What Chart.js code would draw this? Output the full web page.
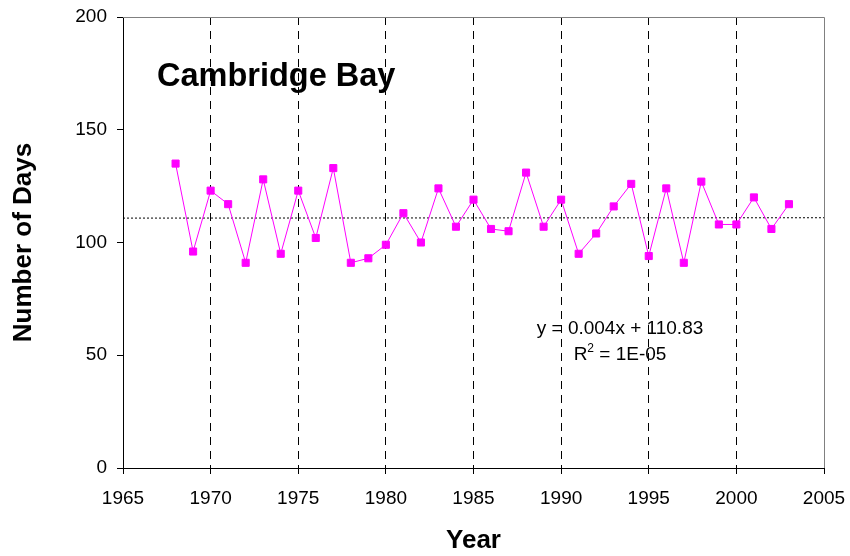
<!DOCTYPE html>
<html>
<head>
<meta charset="utf-8">
<script src="https://cdn.jsdelivr.net/npm/chart.js@4"></script>
<style>
  html, body { margin: 0; padding: 0; background: #fff; }
  #wrap { width: 850px; height: 556px; position: relative; }
</style>
</head>
<body>
<div id="wrap"><canvas id="chart" width="850" height="556"></canvas></div>
<script>
// Cambridge Bay - number of days per year
const years = [1968, 1969, 1970, 1971, 1972, 1973, 1974, 1975, 1976, 1977, 1978, 1979,
    1980, 1981, 1982, 1983, 1984, 1985, 1986, 1987, 1988, 1989, 1990, 1991,
    1992, 1993, 1994, 1995, 1996, 1997, 1998, 1999, 2000, 2001, 2002, 2003];
const days = [135, 96, 123, 117, 91, 128, 95, 123, 102, 133, 91, 93,
    99, 113, 100, 124, 107, 119, 106, 105, 131, 107, 119, 95,
    104, 116, 126, 94, 124, 91, 127, 108, 108, 120, 106, 117];
// linear trend line, drawn across the whole axis
const trendYears = [1965, 2005];
const trendValues = [110.82, 110.98];
const xTicks = [1965, 1970, 1975, 1980, 1985, 1990, 1995, 2000, 2005];
const yTicks = [0, 50, 100, 150, 200];

const FONT = 'Arial, "Liberation Sans", sans-serif';

const labelsPlugin = {
    id: 'labels',
    beforeDatasetsDraw(chart) {
        const { ctx, chartArea: a } = chart;
        ctx.save();
        // grey frame on top and right
        ctx.strokeStyle = '#808080';
        ctx.lineWidth = 1;
        ctx.beginPath();
        ctx.moveTo(a.left, a.top + 0.5);
        ctx.lineTo(a.right + 0.5, a.top + 0.5);
        ctx.lineTo(a.right + 0.5, a.bottom);
        ctx.stroke();
        ctx.restore();
    },
    afterDraw(chart) {
        const { ctx } = chart;
        ctx.save();
        ctx.fillStyle = '#000';
        ctx.textBaseline = 'alphabetic';
        ctx.font = 'bold 32.5px ' + FONT;
        ctx.textAlign = 'left';
        ctx.fillText('Cambridge Bay', 157, 86);

        ctx.font = '19px ' + FONT;
        ctx.textAlign = 'center';
        ctx.fillText('y = 0.004x + 110.83', 620, 334);
        // R² line
        const a = 'R', b = ' = 1E-05';
        const wa = ctx.measureText(a).width;
        ctx.font = '12px ' + FONT;
        const ws = ctx.measureText('2').width;
        ctx.font = '19px ' + FONT;
        const wb = ctx.measureText(b).width;
        let x = 620 - (wa + ws + wb) / 2;
        ctx.textAlign = 'left';
        ctx.fillText(a, x, 360);
        ctx.font = '12px ' + FONT;
        ctx.fillText('2', x + wa, 352);
        ctx.font = '19px ' + FONT;
        ctx.fillText(b, x + wa + ws, 360);
        ctx.restore();
    }
};

new Chart(document.getElementById('chart'), {
    type: 'scatter',
    data: {
        datasets: [{
            label: 'Days',
            data: years.map((y, i) => ({ x: y, y: days[i] })),
            showLine: true,
            borderColor: '#FF00FF',
            backgroundColor: '#FF00FF',
            borderWidth: 1,
            pointStyle: 'rect',
            pointRadius: 5,
            pointHoverRadius: 5,
            order: 1
        }, {
            label: 'Trend',
            data: trendYears.map((y, i) => ({ x: y, y: trendValues[i] })),
            showLine: true,
            borderColor: '#000',
            borderWidth: 1,
            borderDash: [2, 2],
            pointRadius: 0,
            order: 2
        }]
    },
    options: {
        responsive: false,
        animation: false,
        devicePixelRatio: 1,
        layout: { padding: { left: 0, right: 26, top: 17, bottom: 0 } },
        plugins: { legend: { display: false }, tooltip: { enabled: false } },
        scales: {
            x: {
                type: 'linear',
                min: 1965,
                max: 2005,
                afterBuildTicks: (s) => { s.ticks = xTicks.map(v => ({ value: v })); },
                afterFit: (s) => { s.height = 88; s.paddingLeft = 0; s.paddingRight = 0; },
                ticks: {
                    color: '#000',
                    font: { family: FONT, size: 19 },
                    padding: 13,
                    maxRotation: 0,
                    callback: (v) => String(v)
                },
                grid: {
                    color: (c) => (c.tick && (c.tick.value === 1965 || c.tick.value === 2005)) ? 'rgba(0,0,0,0)' : '#000',
                    tickColor: '#000',
                    tickLength: 6,
                    lineWidth: 1
                },
                border: { color: '#000', width: 1, dash: [8, 6] },
                title: {
                    display: true,
                    text: 'Year',
                    color: '#000',
                    font: { family: FONT, size: 26, weight: 'bold' },
                    padding: { top: 0, bottom: 0 }
                }
            },
            y: {
                min: 0,
                max: 200,
                afterBuildTicks: (s) => { s.ticks = yTicks.map(v => ({ value: v })); },
                afterFit: (s) => { s.width = 123; s.paddingTop = 0; s.paddingBottom = 0; },
                ticks: {
                    color: '#000',
                    font: { family: FONT, size: 19 },
                    padding: 10
                },
                grid: {
                    drawOnChartArea: false,
                    tickColor: '#000',
                    tickLength: 6
                },
                border: { color: '#000', width: 1 },
                title: {
                    display: true,
                    text: 'Number of Days',
                    color: '#000',
                    font: { family: FONT, size: 26, weight: 'bold' },
                    padding: { top: 8, bottom: 0 }
                }
            }
        }
    },
    plugins: [labelsPlugin]
});
</script>
</body>
</html>
